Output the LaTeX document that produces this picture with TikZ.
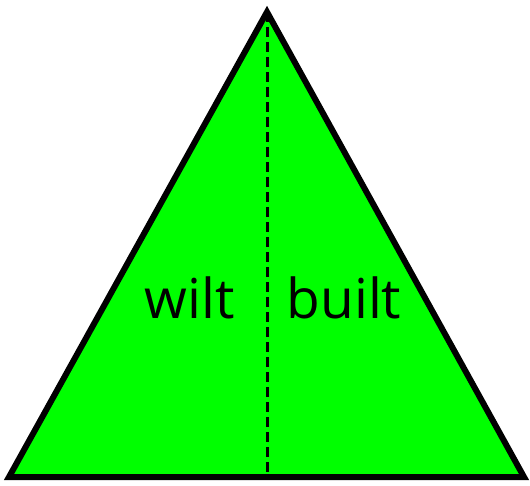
\documentclass[tikz,border=0pt]{standalone}
\usepackage{fontspec}
\setmainfont{Open Sans}
\begin{document}
\begin{tikzpicture}[x=1pt,y=-1pt,
  tri/.style={draw=black,fill=green,line width=6pt,line join=miter},
  divider/.style={draw=black,line width=3pt,dash pattern=on 10pt off 5pt},
  word/.style={font=\fontsize{55}{60}\selectfont,anchor=base,inner sep=0pt}]
\useasboundingbox (0,0) rectangle (530,485);
\coordinate (apex) at (267,12);
\coordinate (bl) at (9,477);
\coordinate (br) at (524,477);
\coordinate (mid) at (267,477);
\path[tri] (apex) -- (br) -- (bl) -- cycle;
\path[divider] (apex) -- (mid);
\node[word] (w1) at (190,318) {wilt};
\node[word] (w2) at (344,318) {built};
\end{tikzpicture}
\end{document}
